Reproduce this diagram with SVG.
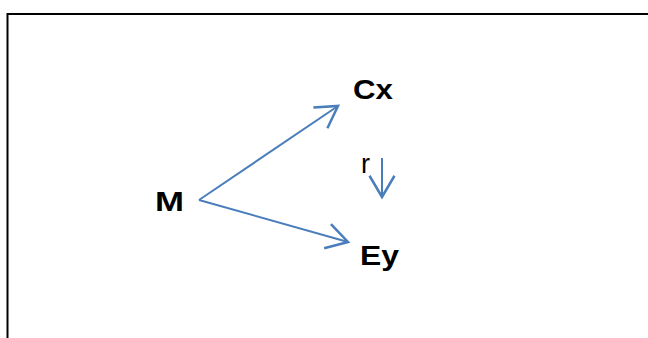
<svg xmlns="http://www.w3.org/2000/svg" width="648" height="338" viewBox="0 0 648 338">
<style>
.lbl{font-family:"Liberation Sans",Arial,sans-serif;font-weight:bold;font-size:28px;fill:#000}
.sm{font-family:"Liberation Sans",Arial,sans-serif;font-size:27px;fill:#000}
.conn{stroke:#4a7ebb;stroke-width:2;fill:none;marker-end:url(#ah)}
</style>
<defs>
<marker id="ah" markerUnits="userSpaceOnUse" markerWidth="30" markerHeight="30" viewBox="-20 -12 22 24" refX="0" refY="0" orient="auto" overflow="visible">
<path d="M-17,-10 L0,0 L-17,10" fill="none" stroke="#4a7ebb" stroke-width="2" stroke-linejoin="miter"/>
</marker>
</defs>
<rect width="648" height="338" fill="#fff"/>
<path d="M7.5,338 V14 H648" fill="none" stroke="#000" stroke-width="2"/>
<g id="connectors">
<path class="conn" d="M199,200 L338,106"/>
<path class="conn" d="M199,200 L348,242"/>
<path class="conn" d="M382,158 L382,197"/>
</g>
<g id="node-M"><text class="lbl" x="155" y="210.5" font-size="30" textLength="29" lengthAdjust="spacingAndGlyphs">M</text></g>
<g id="node-Cx"><text class="lbl" x="353" y="99" textLength="40" lengthAdjust="spacingAndGlyphs">Cx</text></g>
<g id="node-Ey"><text class="lbl" x="360" y="265" textLength="39" lengthAdjust="spacingAndGlyphs">Ey</text></g>
<g id="label-r"><text class="sm" x="361" y="173">r</text></g>
</svg>
